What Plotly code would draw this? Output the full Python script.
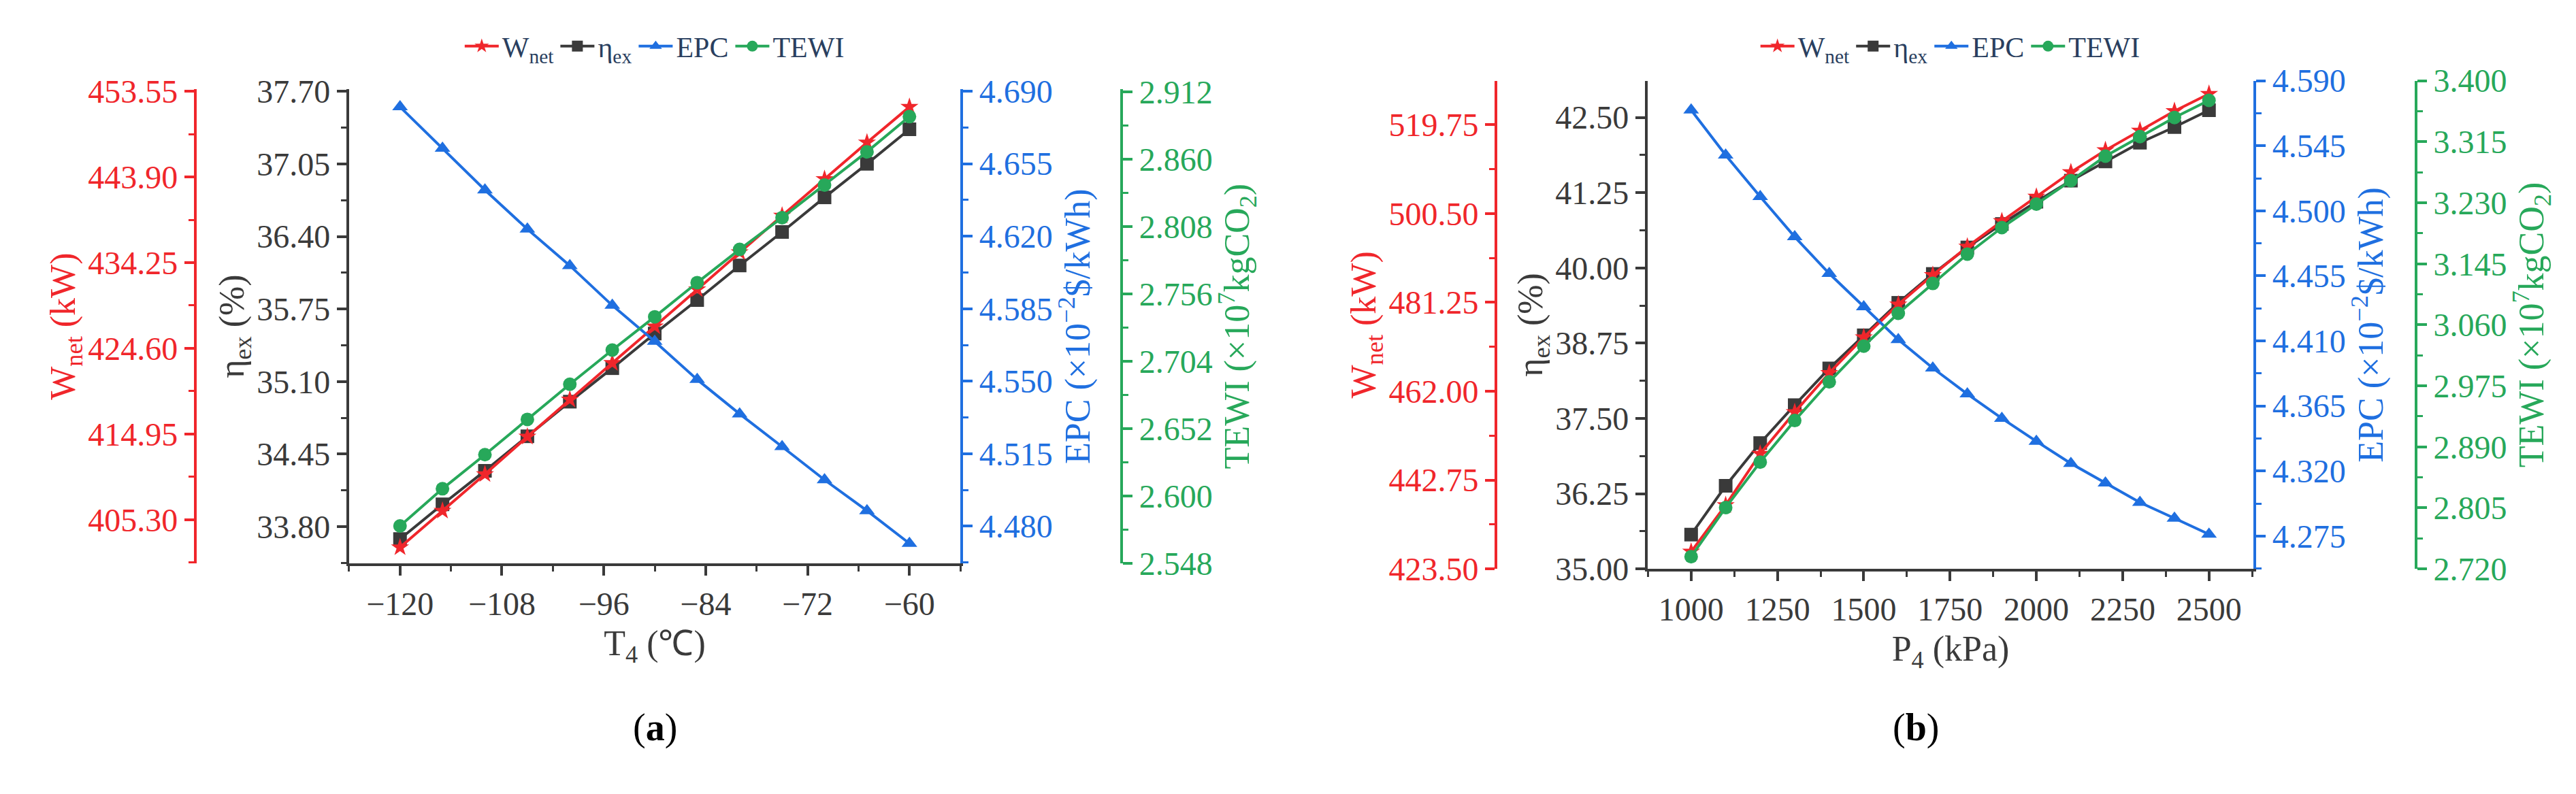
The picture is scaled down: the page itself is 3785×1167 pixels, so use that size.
import plotly.graph_objects as go

# panel (a): T4 sweep
t4 = [-120, -115, -110, -105, -100, -95, -90, -85, -80, -75, -70, -65, -60]
wnet_a = [402.17, 406.29, 410.41, 414.64, 418.82, 422.94, 427.06, 431.24, 435.42, 439.54, 443.66, 447.78, 451.79]
eta_a = [33.69, 34.00, 34.30, 34.61, 34.92, 35.22, 35.53, 35.83, 36.14, 36.44, 36.75, 37.05, 37.36]
epc_a = [4.6824, 4.6624, 4.6423, 4.6234, 4.6058, 4.5866, 4.5692, 4.5508, 4.5342, 4.5184, 4.5024, 4.4875, 4.4717]
tewi_a = [2.5770, 2.6057, 2.6320, 2.6592, 2.6863, 2.7127, 2.7383, 2.7647, 2.7903, 2.8148, 2.8400, 2.8656, 2.8928]

# panel (b): P4 sweep
p4 = [1000, 1100, 1200, 1300, 1400, 1500, 1600, 1700, 1800, 1900, 2000, 2100, 2200, 2300, 2400, 2500]
wnet_b = [427.21, 437.30, 448.44, 457.46, 465.95, 473.69, 480.80, 487.17, 493.33, 498.85, 504.15, 509.46, 514.23, 518.48, 522.72, 526.44]
eta_b = [35.57, 36.38, 37.09, 37.72, 38.33, 38.88, 39.42, 39.90, 40.34, 40.73, 41.10, 41.45, 41.77, 42.08, 42.34, 42.62]
epc_b = [4.5697, 4.5385, 4.5098, 4.4820, 4.4566, 4.4336, 4.4109, 4.3912, 4.3733, 4.3564, 4.3405, 4.3252, 4.3117, 4.2982, 4.2873, 4.2762]
tewi_b = [2.7370, 2.8053, 2.8687, 2.9266, 2.9805, 3.0303, 3.0760, 3.1176, 3.1585, 3.1954, 3.2281, 3.2608, 3.2949, 3.3222, 3.3488, 3.3727]

RED, BLACK, BLUE, GREEN = "#f0262b", "#3a3a3a", "#1f6fe0", "#27a85a"
FONT = "Liberation Serif"
FS = 48

fig = go.Figure()

def add(x, y, name, color, symbol, xa, ya, legend):
    fig.add_trace(go.Scatter(
        x=x, y=y, name=name, mode="lines+markers", xaxis=xa, yaxis=ya,
        line=dict(color=color, width=4), legend=legend,
        marker=dict(symbol=symbol, size=20, color=color)))

add(t4, wnet_a, "W<sub>net</sub>", RED, "star", "x", "y2", "legend")
add(t4, eta_a, "η<sub>ex</sub>", BLACK, "square", "x", "y", "legend")
add(t4, epc_a, "EPC", BLUE, "triangle-up", "x", "y3", "legend")
add(t4, tewi_a, "TEWI", GREEN, "circle", "x", "y4", "legend")
add(p4, wnet_b, "W<sub>net</sub>", RED, "star", "x2", "y6", "legend2")
add(p4, eta_b, "η<sub>ex</sub>", BLACK, "square", "x2", "y5", "legend2")
add(p4, epc_b, "EPC", BLUE, "triangle-up", "x2", "y7", "legend2")
add(p4, tewi_b, "TEWI", GREEN, "circle", "x2", "y8", "legend2")


def yax(color, title, rng, tick0, dtick, fmt, side, **kw):
    return dict(
        range=rng, tick0=tick0, dtick=dtick, tickformat=fmt, side=side,
        showgrid=False, zeroline=False, showline=True, linecolor=color, linewidth=4,
        ticks="outside", ticklen=14, tickwidth=4, tickcolor=color,
        minor=dict(ticks="outside", ticklen=8, tickwidth=3, tickcolor=color,
                   tick0=tick0, dtick=dtick / 2),
        tickfont=dict(color=color, size=FS, family=FONT),
        title=dict(text=title, font=dict(color=color, size=FS + 4, family=FONT), standoff=0),
        **kw)


def xax(domain, anchor, rng, tick0, dtick, title):
    return dict(
        domain=domain, anchor=anchor, range=rng, tick0=tick0, dtick=dtick,
        showgrid=False, zeroline=False, showline=True, linecolor=BLACK, linewidth=4,
        ticks="outside", ticklen=14, tickwidth=4, tickcolor=BLACK,
        minor=dict(ticks="outside", ticklen=8, tickwidth=3, tickcolor=BLACK,
                   tick0=tick0, dtick=dtick / 2),
        tickfont=dict(color=BLACK, size=FS, family=FONT),
        title=dict(text=title, font=dict(color=BLACK, size=FS + 4, family=FONT)))


dom_a_y = [0.287, 0.913]
dom_b_y = [0.280, 0.924]

fig.update_layout(
    width=3785, height=1167, plot_bgcolor="white", paper_bgcolor="white",
    margin=dict(l=0, r=0, t=0, b=0),
    xaxis=xax([0.1334, 0.3707], "y", [-126, -54], -120, 12, "T<sub>4</sub> (℃)"),
    yaxis=yax(BLACK, "η<sub>ex</sub> (%)", [33.47, 37.72], 33.80, 0.65, ".2f", "left",
              domain=dom_a_y, anchor="x"),
    yaxis2=yax(RED, "W<sub>net</sub> (kW)", [400.35, 453.8], 405.30, 9.65, ".2f", "left",
               overlaying="y", anchor="free", position=0.0737),
    yaxis3=yax(BLUE, "EPC (×10<sup>−2</sup>$/kWh)", [4.462, 4.691], 4.480, 0.035, ".3f", "right",
               overlaying="y", anchor="x"),
    yaxis4=yax(GREEN, "TEWI (×10<sup>7</sup>kgCO<sub>2</sub>)", [2.548, 2.914], 2.548, 0.052, ".3f", "right",
               overlaying="y", anchor="free", position=0.4333),
    xaxis2=xax([0.6375, 0.8727], "y5", [874, 2629], 1000, 250, "P<sub>4</sub> (kPa)"),
    yaxis5=yax(BLACK, "η<sub>ex</sub> (%)", [35.0, 43.11], 35.0, 1.25, ".2f", "left",
               domain=dom_b_y, anchor="x2"),
    yaxis6=yax(RED, "W<sub>net</sub> (kW)", [423.5, 529.3], 423.5, 19.25, ".2f", "left",
               overlaying="y5", anchor="free", position=0.5786),
    yaxis7=yax(BLUE, "EPC (×10<sup>−2</sup>$/kWh)", [4.2523, 4.590], 4.275, 0.045, ".3f", "right",
               overlaying="y5", anchor="x2"),
    yaxis8=yax(GREEN, "TEWI (×10<sup>7</sup>kgCO<sub>2</sub>)", [2.720, 3.400], 2.720, 0.085, ".3f", "right",
               overlaying="y5", anchor="free", position=0.9358),
    legend=dict(orientation="h", x=0.252, y=1.0, xanchor="center", yanchor="top",
                font=dict(size=42, family=FONT), bgcolor="rgba(0,0,0,0)",
                itemwidth=50, tracegroupgap=0),
    legend2=dict(orientation="h", x=0.755, y=1.0, xanchor="center", yanchor="top",
                 font=dict(size=42, family=FONT), bgcolor="rgba(0,0,0,0)",
                 itemwidth=50, tracegroupgap=0),
    annotations=[
        dict(text="(<b>a</b>)", x=0.243, y=0.04, xref="paper", yref="paper",
             showarrow=False, font=dict(size=56, family=FONT, color="black")),
        dict(text="(<b>b</b>)", x=0.751, y=0.04, xref="paper", yref="paper",
             showarrow=False, font=dict(size=56, family=FONT, color="black")),
    ],
)

fig.write_html("out.html")
